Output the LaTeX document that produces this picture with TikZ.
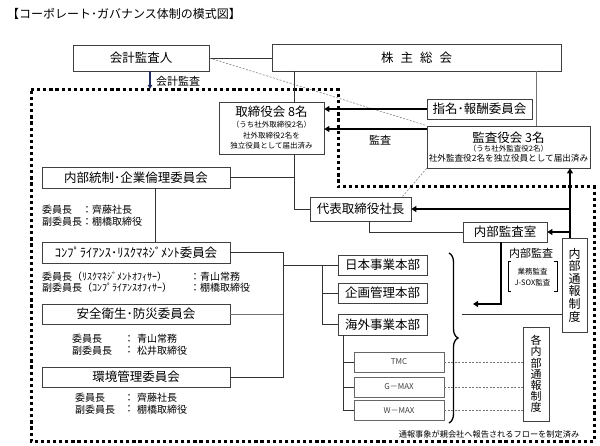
\documentclass[tikz,border=0pt]{standalone}
\usepackage{fontspec}
\setmainfont{Noto Sans CJK JP}
\usetikzlibrary{arrows.meta,decorations.pathreplacing}
\definecolor{navy}{RGB}{31,45,95}
\begin{document}
\begin{tikzpicture}[x=1pt,y=-1pt,
  box/.style={draw=black!75,line width=0.7pt,inner sep=0pt,align=center,fill=white},
  gbox/.style={draw=black!60,line width=0.7pt,inner sep=0pt,align=center,fill=white,text=black!75,font=\fontsize{8}{9}\selectfont},
  ln/.style={draw=black!80,line width=0.7pt},
  lg/.style={draw=black!55,line width=0.7pt},
  heavy/.style={line width=1.8pt,-{Triangle[length=5pt,width=6pt]}},
  heavyline/.style={line width=1.8pt},
  outline/.style={line width=3pt,dash pattern=on 3.2pt off 2.9pt},
  dsh/.style={draw=black!55,line width=0.5pt,dash pattern=on 2pt off 1.5pt},
  member/.style={font=\fontsize{10}{11}\selectfont,anchor=west,inner sep=0pt},
  colon/.style={font=\fontsize{10}{11}\selectfont,inner sep=0pt},
  big/.style={font=\fontsize{12.5}{14}\selectfont},
]
\useasboundingbox (0,0) rectangle (600,446);
\fill[white] (0,0) rectangle (600,446);

% outline of company
\draw[outline] (31,90) -- (338,90) -- (338,187) -- (594,187) -- (594,441) -- (31,441) -- cycle;

% title
\node[anchor=west,inner sep=0pt,font=\fontsize{12}{14}\selectfont] (title) at (7,14) {【コーポレート･ガバナンス体制の模式図】};

% top nodes
\node[box,big,minimum width=136pt,minimum height=26pt] (kaikei) at (141,58) {会計監査人};
\node[box,big,minimum width=289pt,minimum height=27pt] (kabu) at (416.5,57.5) {株\hspace{7pt}主\hspace{7pt}総\hspace{7pt}会};
\node[box,minimum width=105pt,minimum height=52pt,font=\fontsize{7.5}{10.5}\selectfont] (tori) at (271.5,128)
  {{\fontsize{12.5}{14}\selectfont 取締役会\ 8名}\\[0.5pt] （うち社外取締役2名）\\ 社外取締役2名を\\ 独立役員として届出済み};
\node[box,big,minimum width=105pt,minimum height=20pt] (shimei) at (479.5,109) {指名･報酬委員会};
\node[box,minimum width=163pt,minimum height=42pt,font=\fontsize{7.5}{10.5}\selectfont] (kansa) at (508.5,147)
  {{\fontsize{12.5}{14}\selectfont 監査役会\ 3名}\\[-1.5pt] （うち社外監査役2名）\\ {\fontsize{8.6}{10.5}\selectfont 社外監査役2名を独立役員として届出済み}};
\node[box,big,minimum width=101pt,minimum height=24pt] (daihyo) at (360.5,209) {代表取締役社長};
\node[box,big,minimum width=84pt,minimum height=20pt] (naibu) at (505,232) {内部監査室};
\node[box,font=\fontsize{12}{12.6}\selectfont,minimum width=25pt,minimum height=94pt] (tsuho) at (574.5,285) {内\\部\\通\\報\\制\\度};

% committees
\node[box,big,minimum width=188pt,minimum height=21pt] (tousei) at (136,177.5) {内部統制･企業倫理委員会};
\node[box,big,minimum width=188pt,minimum height=21pt] (comp) at (136,252.5) {ｺﾝﾌﾟﾗｲｱﾝｽ･ﾘｽｸﾏﾈｼﾞﾒﾝﾄ委員会};
\node[box,big,minimum width=188pt,minimum height=20pt] (anzen) at (136,314) {安全衛生･防災委員会};
\node[box,big,minimum width=188pt,minimum height=20pt] (kankyo) at (136,377) {環境管理委員会};

\node[member] (m1a) at (42,210) {委員長　：齊藤社長};
\node[member] (m1b) at (42,222) {副委員長：棚橋取締役};
\node[member] (m2a) at (42,277) {委員長（ﾘｽｸﾏﾈｼﾞﾒﾝﾄｵﾌｨｻｰ）};
\node[member] (m2av) at (190,277) {：青山常務};
\node[member] (m2b) at (42,287.5) {副委員長（ｺﾝﾌﾟﾗｲｱﾝｽｵﾌｨｻｰ）};
\node[member] (m2bv) at (190,287.5) {：棚橋取締役};
\node[member] (m3a) at (72,339) {委員長};
\node[colon] (c3a) at (129,339) {：};
\node[member] (m3av) at (137,339) {青山常務};
\node[member] (m3b) at (72,350.5) {副委員長};
\node[colon] (c3b) at (129,350.5) {：};
\node[member] (m3bv) at (137,350.5) {松井取締役};
\node[member] (m4a) at (75,398) {委員長};
\node[colon] (c4a) at (129,398) {：};
\node[member] (m4av) at (137,398) {齊藤社長};
\node[member] (m4b) at (75,409.5) {副委員長};
\node[colon] (c4b) at (129,409.5) {：};
\node[member] (m4bv) at (137,409.5) {棚橋取締役};

% divisions
\node[box,big,minimum width=89pt,minimum height=20pt] (nihon) at (382.5,265) {日本事業本部};
\node[box,big,minimum width=89pt,minimum height=20pt] (kikaku) at (382.5,293) {企画管理本部};
\node[box,big,minimum width=89pt,minimum height=21pt] (kaigai) at (382.5,324.5) {海外事業本部};
\node[gbox,minimum width=90pt,minimum height=20pt] (tmc) at (399,362) {TMC};
\node[gbox,minimum width=90pt,minimum height=20pt] (gmax) at (399,387) {G－MAX};
\node[gbox,minimum width=90pt,minimum height=20pt] (wmax) at (399,410.5) {W－MAX};
\node[box,font=\fontsize{11}{11.2}\selectfont,minimum width=26pt,minimum height=94pt] (kaku) at (536,374) {各\\内\\部\\通\\報\\制\\度};

% labels
\node[anchor=west,inner sep=0pt,font=\fontsize{11}{12}\selectfont] (lkaikei) at (156,81) {会計監査};
\node[inner sep=0pt,font=\fontsize{11}{12}\selectfont] (lkansa) at (380,140) {監査};
\node[inner sep=0pt,font=\fontsize{11}{12}\selectfont] (lnaibu) at (531,253) {内部監査};
\node[inner sep=0pt,align=center,font=\fontsize{7.5}{11}\selectfont] (lgyomu) at (532.5,277.5) {業務監査\\J-SOX監査};
\node[inner sep=0pt,font=\fontsize{8.2}{10}\selectfont] (foot) at (489,434) {通報事象が親会社へ報告されるフローを制定済み};

% coordinates
\coordinate (xA) at (294,0);
\coordinate (xB) at (536,0);
\coordinate (yK) at (0,129);
\coordinate (dEnd) at (402,197);
\coordinate (xC) at (570,0);
\coordinate (xD) at (369,0);
\coordinate (xE) at (501,0);
\coordinate (iaEnd) at (473,304);
\coordinate (tsL) at (462,314);
\coordinate (xF) at (155,0);
\coordinate (xG) at (283,0);
\coordinate (xH) at (322,0);
\coordinate (xI) at (343,0);
\coordinate (xK) at (150,0);
\coordinate (outTop) at (0,89);

% connectors
\draw[ln] (kaikei.east) -- (kaikei.east -| kabu.west);
\draw[dsh] (kaikei.east) -- (kansa.north west);
\draw[navy,line width=1.5pt,-{Triangle[length=4pt,width=4.5pt]}] (kaikei.south -| xK) -- (xK |- outTop);
\draw[ln] (kabu.south -| xA) -- (tori.north -| xA);
\draw[ln] (tori.south -| xA) |- (daihyo.west);
\draw[ln] (tousei.east) -- (tousei.east -| xA);
\draw[lg] (kabu.south -| xB) -- (kansa.north -| xB);
\draw[heavy] (shimei.west) -- (shimei.west -| tori.east);
\draw[heavy] (kansa.west |- yK) -- (tori.east |- yK);
\draw[dsh] (kansa.south west) -- (dEnd);
\draw[heavy] (tsuho.north -| xC) -- (kansa.south -| xC);
\draw[heavy] (xC |- daihyo.east) -- (daihyo.east);
\draw[heavy] (xC |- naibu.east) -- (naibu.east);
\draw[ln] (daihyo.south -| xD) |- (naibu.west);
\draw[heavy] (naibu.south -| xE) |- (iaEnd);
\draw[ln] (tsL) -- (tsL -| tsuho.west);
\draw[line width=0.8pt] (511,261) -- (508,261) -- (508,291) -- (511,291);
\draw[line width=0.8pt] (554,261) -- (557,261) -- (557,291) -- (554,291);
\draw[line width=1.3pt,decorate,decoration={brace,amplitude=9pt}] (449,253) -- (449,423);

\draw[ln] (tousei.south -| xF) -- (comp.north -| xF);
\draw[ln] (comp.east) -- (comp.east -| xG) -- (xG |- kankyo.east) -- (kankyo.east);
\draw[lg] (anzen.east) -- (anzen.east -| xG);
\draw[ln] (xG |- nihon.west) -- (nihon.west);
\draw[ln] (xH |- nihon.west) |- (kaigai.west);
\draw[ln] (xH |- kikaku.west) -- (kikaku.west);
\draw[ln] (kaigai.south -| xI) |- (wmax.west);
\draw[ln] (xI |- tmc.west) -- (tmc.west);
\draw[ln] (xI |- gmax.west) -- (gmax.west);
\draw[dsh] (tmc.east) -- (tmc.east -| kaku.west);
\draw[dsh] (gmax.east) -- (gmax.east -| kaku.west);
\draw[dsh] (wmax.east) -- (wmax.east -| kaku.west);
\end{tikzpicture}
\end{document}
